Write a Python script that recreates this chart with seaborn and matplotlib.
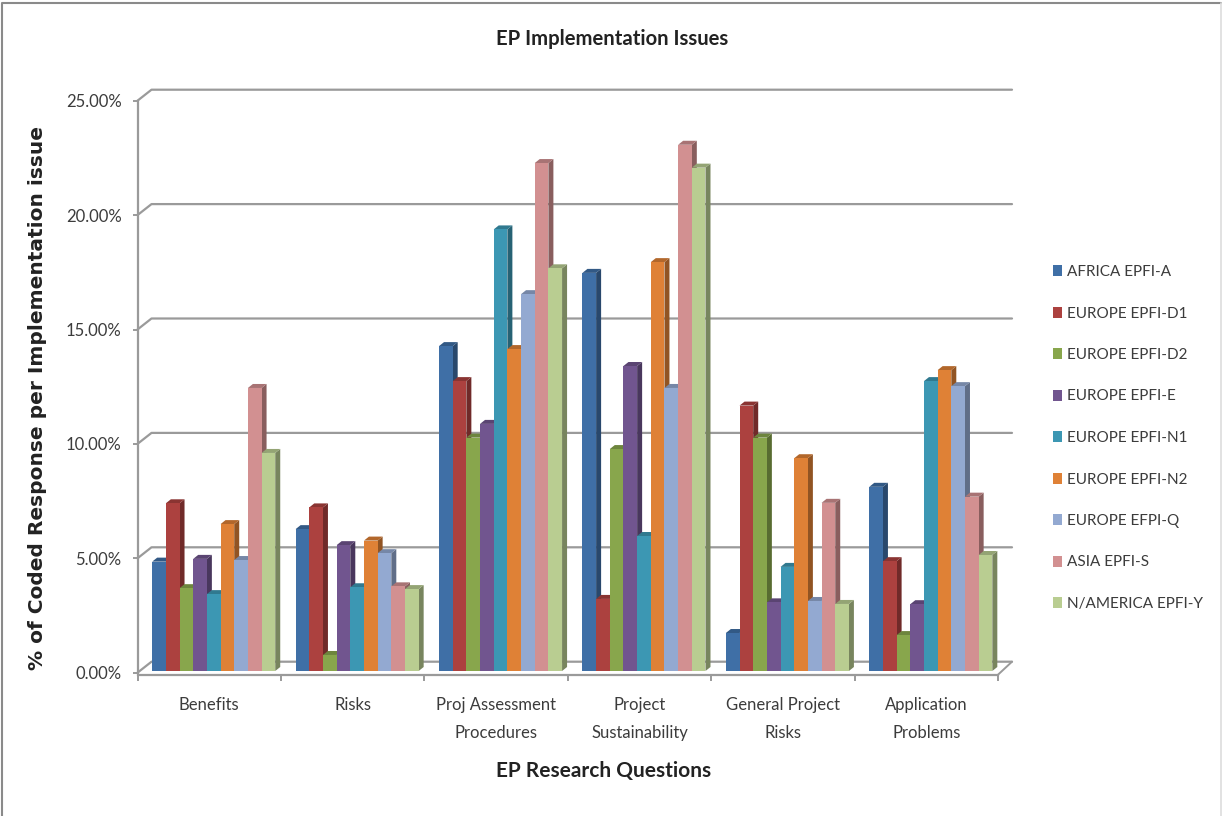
import numpy as np
import pandas as pd
import seaborn as sns
import matplotlib.pyplot as plt
from matplotlib.colors import to_rgb
from matplotlib.lines import Line2D
from matplotlib.patches import Polygon, Rectangle
from matplotlib.transforms import IdentityTransform

questions = ['Benefits', 'Risks', 'Proj Assessment\nProcedures', 'Project\nSustainability',
             'General Project\nRisks', 'Application\nProblems']
sources = ['AFRICA EPFI-A', 'EUROPE EPFI-D1', 'EUROPE EPFI-D2', 'EUROPE EPFI-E', 'EUROPE EPFI-N1',
           'EUROPE EPFI-N2', 'EUROPE EFPI-Q', 'ASIA EPFI-S', 'N/AMERICA EPFI-Y']
colors = ['#3F6FA6', '#AC413F', '#88A64C', '#71558F', '#3C97B3', '#DF8136', '#93A9D1', '#D29091', '#B9CD91']

benefits = [4.78, 7.33, 3.62, 4.90, 3.36, 6.42, 4.85, 12.37, 9.53]
risks = [6.20, 7.15, 0.70, 5.50, 3.66, 5.70, 5.15, 3.70, 3.58]
proj_assessment = [14.20, 12.67, 10.20, 10.80, 19.30, 14.07, 16.47, 22.20, 17.60]
sustainability = [17.40, 3.15, 9.70, 13.33, 5.90, 17.87, 12.37, 23.00, 22.00]
general_risks = [1.66, 11.60, 10.20, 3.00, 4.55, 9.30, 3.06, 7.35, 2.93]
application = [8.05, 4.80, 1.57, 2.92, 12.67, 13.15, 12.45, 7.62, 5.07]

W, H = 1222, 816
GRAY = '#9a9a9a'
TEXT = '#3c3c3c'
FONT = 'Lato'

rows = []
for q, vals in zip(questions, [benefits, risks, proj_assessment, sustainability, general_risks, application]):
    for s, v in zip(sources, vals):
        rows.append({'question': q, 'source': s, 'value': v})
df = pd.DataFrame(rows)

sns.set_theme(style='white')
plt.rcParams['font.family'] = [FONT, 'DejaVu Sans']

fig = plt.figure(figsize=(W / 100, H / 100), dpi=100)
ax = fig.add_axes([137.5 / W, (H - 672.7) / H, 860.5 / W, 572 / H])

sns.barplot(data=df, x='question', y='value', hue='source', order=questions, hue_order=sources,
            palette=colors, width=0.858, gap=0, saturation=1, ax=ax, linewidth=0, zorder=3)
ax.set_xlim(-0.5, 5.5)
ax.set_ylim(0, 25)
ax.set_yticks(np.arange(0, 26, 5))
ax.set_yticklabels(['%.2f%%' % t for t in np.arange(0, 26, 5)])

# fake 3d: pixel offsets between front plane, bars and back wall
to_px = ax.transData.transform
BACK_X, BACK_Y = 14, 11
BAR_X, BAR_Y = 4.5, 1.7
DEPTH_X, DEPTH_Y = 5, 4
px = IdentityTransform()

# back wall gridlines
for t in np.arange(0, 26, 5):
    x0, y0 = to_px((-0.5, t))
    x1, y1 = to_px((5.5, t))
    ax.add_line(Line2D([x0, x0 + BACK_X, x1 + BACK_X], [y0, y0 + BACK_Y, y1 + BACK_Y], transform=px,
                       color=GRAY, lw=1.6, clip_on=False, zorder=1))

# floor edge on the right
x1, y1 = to_px((5.5, 0))
ax.add_line(Line2D([x1, x1 + BACK_X], [y1 - 2, y1 + BACK_Y], transform=px,
                   color=GRAY, lw=1.4, clip_on=False, zorder=1))

bars = sorted([p for p in ax.patches if p.get_width() > 0], key=lambda p: p.get_x())
for i, bar in enumerate(bars):
    (l, b), (r, t) = to_px(bar.get_bbox().get_points())
    l, r = l + BAR_X, r + BAR_X
    b, t = b + BAR_Y, t + BAR_Y
    rgb = np.array(to_rgb(bar.get_facecolor()))
    z = 3 + i * 0.01
    ax.add_patch(Polygon([(r, b), (r + DEPTH_X, b + DEPTH_Y), (r + DEPTH_X, t + DEPTH_Y), (r, t)], closed=True,
                         transform=px, facecolor=rgb * 0.65, edgecolor='none', clip_on=False, zorder=z))
    ax.add_patch(Polygon([(l, t), (l + DEPTH_X, t + DEPTH_Y), (r + DEPTH_X, t + DEPTH_Y), (r, t)], closed=True,
                         transform=px, facecolor=rgb * 0.8, edgecolor='none', clip_on=False, zorder=z))
    ax.add_patch(Rectangle((l, b), r - l, t - b, transform=px, facecolor=rgb, edgecolor='none',
                           clip_on=False, zorder=z + 0.001))
    bar.set_visible(False)

for side in ['top', 'right']:
    ax.spines[side].set_visible(False)
for side in ['left', 'bottom']:
    ax.spines[side].set_color(GRAY)
    ax.spines[side].set_linewidth(1.6)
ax.spines['bottom'].set_position(('outward', 2))
ax.patch.set_alpha(0)

ax.set_xticks(np.arange(-0.5, 6, 1))
ax.set_xticklabels([])
ax.set_xticks(np.arange(6), questions, minor=True)
ax.tick_params(axis='x', which='major', bottom=True, length=4.5, width=1.4, color=GRAY)
ax.tick_params(axis='x', which='minor', bottom=False, pad=11.5, labelsize=12, labelcolor=TEXT)
ax.tick_params(axis='y', left=True, length=3.5, width=1.4, color=GRAY, pad=8, labelsize=12, labelcolor=TEXT)
for lab in ax.get_xticklabels(minor=True):
    lab.set_linespacing(1.95)

ax.set_title('EP Implementation Issues', x=(612 - 137.5) / 860.5, y=(672.7 - 39.5) / 572, va='center', pad=0,
             fontsize=14.6, fontweight='bold', color='#222222')
ax.set_xlabel('EP Research Questions', fontsize=15, fontweight='bold', color='#222222')
ax.xaxis.set_label_coords((604 - 137.5) / 860.5, (672.7 - 771) / 572)
ax.xaxis.label.set_va('center')
ax.set_ylabel('% of Coded Response per Implementation issue', fontsize=14.5, fontweight='bold',
              family='DejaVu Sans', color='#222222')
ax.yaxis.set_label_coords((38 - 137.5) / 860.5, (672.7 - 398) / 572)
ax.yaxis.label.set_va('center')

handles, labels = ax.get_legend_handles_labels()
ax.legend(handles, labels, loc='center left', bbox_to_anchor=(1053 / W, (H - 438) / H),
          bbox_transform=fig.transFigure, frameon=False, fontsize=11, labelcolor=TEXT, borderpad=0,
          borderaxespad=0, handlelength=0.59, handleheight=0.72, handletextpad=0.33, labelspacing=1.8)

# picture frame: dark on top and left, faint on the right, none at the bottom
fig.add_artist(Line2D([2 / W, 2 / W, 1 - 1 / W], [0, 1 - 3 / H, 1 - 3 / H], transform=fig.transFigure,
                      color='#8a8a8a', lw=1.5))
fig.add_artist(Line2D([1 - 1 / W, 1 - 1 / W], [0, 1 - 3 / H], transform=fig.transFigure,
                      color='#dddddd', lw=1.2))

fig.savefig('out.png', dpi=100)
